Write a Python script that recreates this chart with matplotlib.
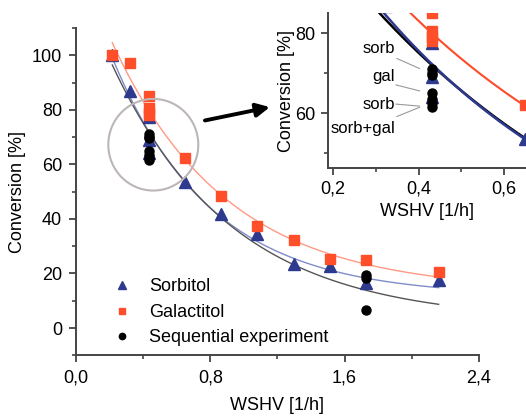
import numpy as np
import matplotlib
matplotlib.use("Agg")
import matplotlib.pyplot as plt
from matplotlib.patches import Ellipse
from matplotlib.ticker import MultipleLocator, FuncFormatter

plt.rcParams['font.family'] = ['Liberation Sans', 'DejaVu Sans']

# ---------------- data ----------------
sorb_x = [0.216, 0.324, 0.432, 0.432, 0.432, 0.648, 0.864, 1.08, 1.296, 1.512, 1.728, 2.16]
sorb_y = [100, 86.8, 77.5, 69, 64, 53.5, 41.9, 34.6, 23.4, 22.6, 16.4, 17.5]
gal_x = [0.216, 0.324, 0.432, 0.432, 0.432, 0.432, 0.648, 0.864, 1.08, 1.296, 1.512, 1.728, 2.16]
gal_y = [100, 97, 85, 80.5, 79, 78, 62.2, 48.4, 37.4, 32.4, 25.2, 24.8, 20.5]
seq_x = [0.432, 0.432, 0.432, 0.432, 0.432, 0.432, 0.432, 1.728, 1.728, 1.728]
seq_y = [71, 70, 69.5, 65, 63.5, 62.5, 61.5, 19.3, 18.5, 6.7]

# exponential-decay fit parameters  y = c + A*exp(-k*x)
sorb_fit = [11.6, 126.3, 1.7]
gal_fit = [13.4, 125.1, 1.4627]
seq_fit = [2.52, 127.1, 1.4]
fit_range = [0.216, 2.16]

labels = ["Sorbitol", "Galactitol", "Sequential experiment"]
ann_texts = ["sorb", "gal", "sorb", "sorb+gal"]

C_BLUE = "#2d3a8e"
C_RED = "#ff4e2a"


def expdec(p, x):
    return p[0] + p[1] * np.exp(-p[2] * x)


xf = np.linspace(fit_range[0], fit_range[1], 300)
comma = FuncFormatter(lambda v, pos: f"{v:.1f}".replace(".", ","))

fig = plt.figure(figsize=(5.26, 4.16), dpi=100)
ax = fig.add_axes([0.1445, 0.1459, 0.766, 0.7868])

# fits (main, light)
ax.plot(xf, expdec(gal_fit, xf), color="#ff9a84", lw=1.0, zorder=2)
ax.plot(xf, expdec(sorb_fit, xf), color="#7f8cc8", lw=1.0, zorder=2)
ax.plot(xf, expdec(seq_fit, xf), color="#555555", lw=1.0, zorder=2)

ax.plot(sorb_x, sorb_y, ls="none", marker="^", ms=8, color=C_BLUE, label=labels[0], zorder=3)
ax.plot(gal_x, gal_y, ls="none", marker="s", ms=6.5, color=C_RED, label=labels[1], zorder=4)
ax.plot(seq_x, seq_y, ls="none", marker="o", ms=6.5, color="black", label=labels[2], zorder=5)

ax.set_xlim(0, 2.4)
ax.set_ylim(-10, 110)
ax.xaxis.set_major_locator(MultipleLocator(0.8))
ax.xaxis.set_minor_locator(MultipleLocator(0.4))
ax.yaxis.set_major_locator(MultipleLocator(20))
ax.yaxis.set_minor_locator(MultipleLocator(10))
ax.xaxis.set_major_formatter(comma)
ax.yaxis.set_major_formatter(FuncFormatter(lambda v, pos: f"{v:.0f}"))
for s in ["top", "right"]:
    ax.spines[s].set_visible(False)
for s in ["left", "bottom"]:
    ax.spines[s].set_color("#444444")
    ax.spines[s].set_linewidth(1.4)
ax.tick_params(which="major", direction="out", length=5, width=1.3, color="#444444",
               labelsize=13, pad=5)
ax.tick_params(which="minor", direction="out", length=3, width=1.2, color="#444444")
ax.set_xlabel("WSHV [1/h]", fontsize=13, labelpad=8)
ax.set_ylabel("Conversion [%]", fontsize=13, labelpad=4)

leg = ax.legend(loc="upper left", bbox_to_anchor=(0.091, 0.235), frameon=False,
                fontsize=13, handlelength=1.0, handletextpad=1.0, labelspacing=0.47,
                borderpad=0, borderaxespad=0, markerscale=0.7)

# gray circle and arrow
ax.add_patch(Ellipse((0.4604, 67.2), 0.536, 33.6, fill=False, ec="#bdb6b6", lw=1.5, zorder=6))
ax.annotate("", xy=(1.155, 81.0), xytext=(0.768, 76.1),
            arrowprops=dict(arrowstyle="-|>", lw=2.8, color="black", mutation_scale=20,
                            shrinkA=0, shrinkB=0))

# ---------------- inset ----------------
ins = fig.add_axes([0.6236, 0.5954, 0.3764, 0.3726])
ins.plot(xf, expdec(gal_fit, xf), color="#ff4a2a", lw=1.5, zorder=2)
ins.plot(xf, expdec(seq_fit, xf), color="black", lw=1.8, zorder=2)
ins.plot(xf, expdec(sorb_fit, xf), color=C_BLUE, lw=1.8, zorder=2)
ins.plot(sorb_x, sorb_y, ls="none", marker="^", ms=8, color=C_BLUE, zorder=3)
ins.plot(gal_x, gal_y, ls="none", marker="s", ms=6.5, color=C_RED, zorder=4)
ins.plot(seq_x, seq_y, ls="none", marker="o", ms=6.5, color="black", zorder=5)
ins.set_xlim(0.188, 0.651)
ins.set_ylim(46.25, 85)
ins.xaxis.set_major_locator(MultipleLocator(0.2))
ins.xaxis.set_minor_locator(MultipleLocator(0.1))
ins.yaxis.set_major_locator(MultipleLocator(20))
ins.yaxis.set_minor_locator(MultipleLocator(10))
ins.xaxis.set_major_formatter(comma)
ins.yaxis.set_major_formatter(FuncFormatter(lambda v, pos: f"{v:.0f}"))
for s in ["top", "right"]:
    ins.spines[s].set_visible(False)
for s in ["left", "bottom"]:
    ins.spines[s].set_color("#444444")
    ins.spines[s].set_linewidth(1.4)
ins.tick_params(which="major", direction="out", length=5, width=1.3, color="#444444",
                labelsize=13, pad=4)
ins.tick_params(which="minor", direction="out", length=3, width=1.2, color="#444444")
ins.set_xlabel("WSHV [1/h]", fontsize=13, labelpad=4)
ins.set_ylabel("Conversion [%]", fontsize=13, labelpad=0)

ann_text_pos = [(0.345, 76.3), (0.345, 69.2), (0.345, 62.3), (0.345, 56.3)]
ann_line_start = [(0.349, 73.7), (0.347, 67.1), (0.347, 62.3), (0.349, 59.2)]
ann_line_end = [(0.402, 71.2), (0.402, 65.6), (0.402, 61.8), (0.402, 61.5)]
for t, tp, ls_, le in zip(ann_texts, ann_text_pos, ann_line_start, ann_line_end):
    ins.text(tp[0], tp[1], t, ha="right", va="center", fontsize=12, zorder=7)
    ins.plot([ls_[0], le[0]], [ls_[1], le[1]], color="#999999", lw=0.8, zorder=6)

fig.savefig("out.png", dpi=100)
